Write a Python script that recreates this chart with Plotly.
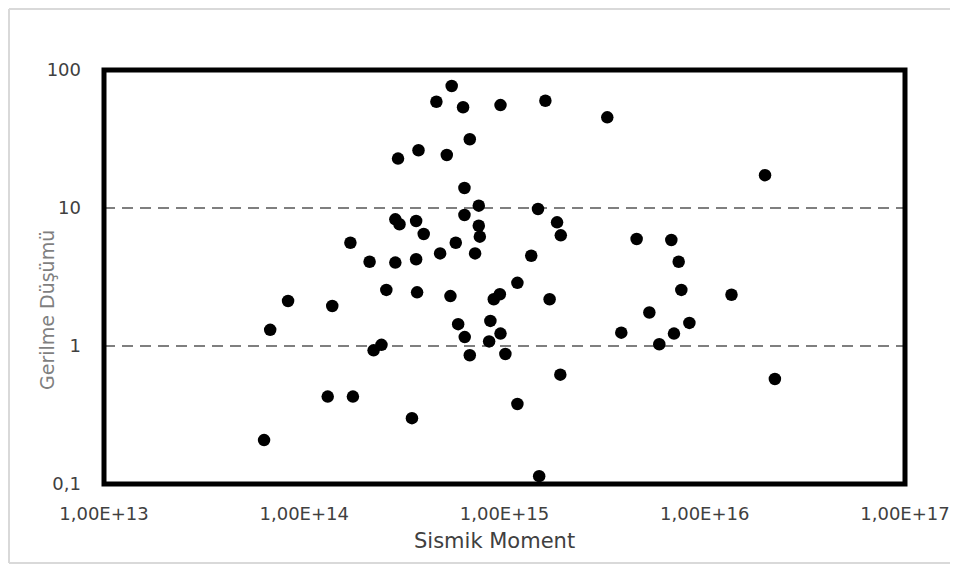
import plotly.graph_objects as go

# Seismic moment (x) and stress drop (y)
moment = [6.3e13, 6.76e13, 8.3e13, 1.38e14, 1.31e14, 1.75e14, 2.57e14, 2.22e14, 2.43e14,
          3.66e14, 3.45e14, 5.37e14, 5.87e14, 6.33e14, 6.71e14, 8.5e14, 8.38e14, 9.55e14,
          1.01e15, 8.84e14, 9.48e14, 1.16e15, 1.16e15, 1.68e15, 1.9e15, 1.49e15,
          5.45e14, 4.57e14, 6.21e14, 9.55e14, 1.6e15, 6.71e14, 2.94e14, 3.72e14, 5.15e14,
          6.31e14, 7.44e14, 1.47e15, 6.31e14, 2.85e14, 2.99e14, 3.62e14, 7.44e14, 1.83e15,
          3.95e14, 7.53e14, 1.91e15, 1.7e14, 5.71e14, 2.12e14, 2.85e14, 3.62e14, 4.77e14,
          7.13e14, 1.36e15, 3.26e15, 2.0e16, 4.57e15, 6.81e15, 7.41e15, 7.64e15, 1.36e16,
          5.29e15, 3.83e15, 5.93e15, 7.02e15, 8.38e15, 2.24e16]
stress = [0.208, 1.31, 2.12, 1.95, 0.43, 0.43, 2.55, 0.93, 1.02,
          2.45, 0.30, 2.30, 1.44, 1.16, 0.857, 1.52, 1.08, 1.23,
          0.875, 2.18, 2.37, 2.87, 0.38, 2.18, 0.62, 0.114,
          76.6, 58.9, 53.7, 55.7, 59.9, 31.5, 22.8, 26.2, 24.2,
          13.96, 10.4, 9.84, 8.9, 8.28, 7.62, 8.05, 7.44, 7.87,
          6.48, 6.2, 6.34, 5.6, 5.6, 4.08, 4.02, 4.25, 4.69,
          4.69, 4.51, 45.4, 17.3, 5.96, 5.86, 4.08, 2.55, 2.35,
          1.75, 1.25, 1.03, 1.23, 1.47, 0.577]

x_tickvals = [1e13, 1e14, 1e15, 1e16, 1e17]
x_ticktext = ["1,00E+13", "1,00E+14", "1,00E+15", "1,00E+16", "1,00E+17"]
y_tickvals = [0.1, 1, 10, 100]
y_ticktext = ["0,1", "1", "10", "100"]

x_title = "Sismik Moment"
y_title = "Gerilme Düşümü"

# The page adds an 8px body margin; keep the figure small enough to avoid scrollbars.
OFF = 8
W, H = 942, 556
L, T = 104 - OFF, 70 - OFF
PW = 905 - 104   # plot width in px
PH = 484 - 70    # plot height in px

def px(xpage):
    return (xpage - OFF - L) / PW

def py(ypage):
    return (T + PH - (ypage - OFF)) / PH

fig = go.Figure()
fig.add_trace(go.Scatter(
    x=moment, y=stress, mode="markers",
    marker=dict(color="black", size=12.5, line=dict(width=0)),
    showlegend=False,
))

font_family = "DejaVu Sans"
border = dict(color="#d9d9d9", width=2)
x_left, x_right = px(OFF + 1), px(OFF + W)
y_top, y_bot = py(OFF + 1), py(OFF + H - 1)

fig.update_layout(
    width=W, height=H,
    margin=dict(l=L, r=W - L - PW, t=T, b=H - T - PH),
    paper_bgcolor="white", plot_bgcolor="white",
    font=dict(family=font_family, size=18, color="#404040"),
    xaxis=dict(
        type="log", range=[13, 17], tickvals=x_tickvals, ticktext=x_ticktext,
        showgrid=False, zeroline=False, showline=False, ticks="",
        ticklabelstandoff=17, automargin=False,
        tickfont=dict(family=font_family, size=18, color="#404040"),
    ),
    yaxis=dict(
        type="log", range=[-1, 2], tickvals=y_tickvals, ticktext=y_ticktext,
        showgrid=True, gridcolor="#7f7f7f", gridwidth=2, griddash="11px,7px",
        zeroline=False, showline=False, ticks="",
        ticklabelstandoff=22, automargin=False,
        tickfont=dict(family=font_family, size=18, color="#404040"),
    ),
    shapes=[
        dict(type="rect", xref="paper", yref="paper", x0=0, x1=1, y0=0, y1=1,
             line=dict(color="black", width=5), fillcolor="rgba(0,0,0,0)", layer="above"),
        dict(type="line", xref="paper", yref="paper", x0=x_left, x1=x_right,
             y0=y_top, y1=y_top, line=border, layer="below"),
        dict(type="line", xref="paper", yref="paper", x0=x_left, x1=x_left,
             y0=y_bot, y1=y_top, line=border, layer="below"),
        dict(type="line", xref="paper", yref="paper", x0=x_left, x1=x_right,
             y0=y_bot, y1=y_bot, line=border, layer="below"),
    ],
    annotations=[
        dict(text=x_title, xref="paper", yref="paper", x=px(494),
             y=py(541), xanchor="center", yanchor="middle", showarrow=False,
             font=dict(family=font_family, size=21, color="#404040")),
        dict(text=y_title, xref="paper", yref="paper", x=px(47),
             y=py(310), xanchor="center", yanchor="middle", showarrow=False,
             textangle=-90, font=dict(family=font_family, size=19, color="#7f7f7f")),
    ],
)

fig.write_html("out.html")
